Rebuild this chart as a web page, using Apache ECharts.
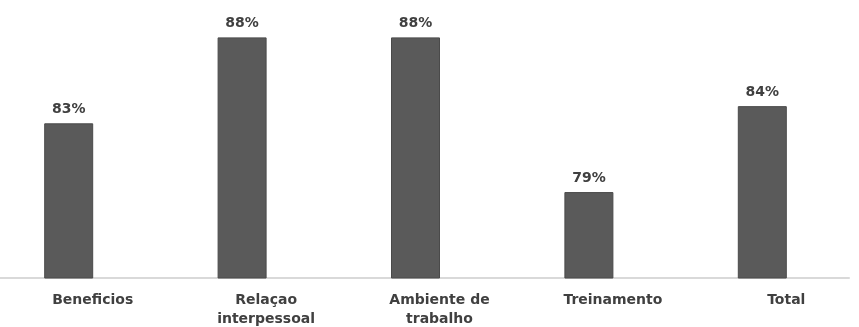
<!DOCTYPE html>
<html><head><meta charset="utf-8">
<script src="https://cdn.jsdelivr.net/npm/echarts@6/dist/echarts.min.js"></script>
<style>html,body{margin:0;padding:0;background:#fff}#c{width:859px;height:327px}</style>
</head><body><div id="c"></div>
<script>
const categories = ['Beneficios', 'Relaçao\ninterpessoal', 'Ambiente de\ntrabalho', 'Treinamento', 'Total'];
const values = [83, 88, 88, 79, 84];
const yMin = 74, yMax = 90;

const chart = echarts.init(document.getElementById('c'));
chart.setOption({
  animation: false,
  backgroundColor: '#ffffff',
  grid: { left: -18, right: 10, top: 3, bottom: 49, containLabel: false, outerBoundsMode: 'none' },
  xAxis: {
    type: 'category',
    data: categories,
    axisLine: { show: true, lineStyle: { color: '#d9d9d9', width: 2 } },
    axisTick: { show: false },
    axisLabel: {
      color: '#404040', fontFamily: 'DejaVu Sans', fontSize: 14, fontWeight: 'bold',
      lineHeight: 19, margin: 13, padding: [0, 0, 0, 48], interval: 0
    }
  },
  yAxis: {
    type: 'value', min: yMin, max: yMax, show: false,
    splitLine: { show: false }
  },
  series: [{
    type: 'bar',
    data: values,
    barWidth: 49,
    itemStyle: { color: '#5a5a5a', borderColor: '#4a4a4a', borderWidth: 1 },
    label: {
      show: true, position: 'top', distance: 7,
      formatter: p => p.value + '%',
      color: '#404040', fontFamily: 'DejaVu Sans', fontSize: 14, fontWeight: 'bold'
    }
  }]
});
</script></body></html>
